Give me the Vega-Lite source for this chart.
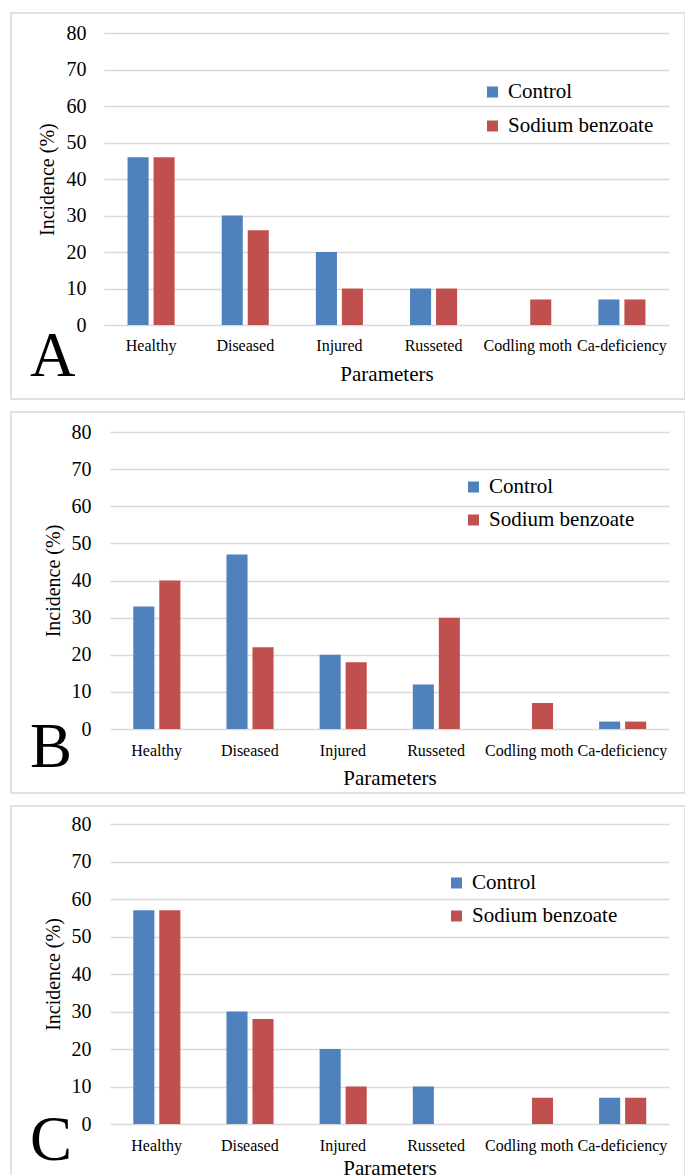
{
  "$schema": "https://vega.github.io/schema/vega-lite/v6.json",
  "padding": {"left": 10, "top": 12, "right": 0, "bottom": 0},
  "spacing": 11,
  "config": {
    "font": "Liberation Serif",
    "background": "#ffffff",
    "view": {"stroke": "#d9d9d9", "strokeWidth": 1.5},
    "axisX": {
      "grid": false, "domain": false, "ticks": false, "tickSize": 0,
      "labelAngle": 0, "labelFont": "Liberation Serif", "labelFontSize": 16, "labelColor": "#000000",
      "titleFont": "Liberation Serif", "titleFontSize": 21, "titleFontWeight": "normal", "titleColor": "#000000"
    },
    "axisY": {
      "grid": true, "gridColor": "#d9d9d9", "gridWidth": 1.5,
      "domain": false, "ticks": false, "tickSize": 0,
      "labelFont": "Liberation Serif", "labelFontSize": 20, "labelColor": "#000000",
      "titleFont": "Liberation Serif", "titleFontSize": 20, "titleFontWeight": "normal", "titleColor": "#000000",
      "values": [0, 10, 20, 30, 40, 50, 60, 70, 80]
    },
    "legend": {
      "orient": "none", "title": null, "padding": 0,
      "symbolType": "square", "symbolSize": 121, "symbolStrokeWidth": 0, "symbolOpacity": 1,
      "labelFont": "Liberation Serif", "labelFontSize": 21, "labelColor": "#000000", "labelOffset": 5, "labelLimit": 300
    },
    "title": {
      "orient": "bottom", "anchor": "start", "frame": "group",
      "font": "Liberation Serif", "fontSize": 63, "fontWeight": "normal", "color": "#000000",
      "baseline": "top", "dx": 19
    }
  },
  "data": {
    "values": [
      {"panel": "A", "parameter": "Healthy", "treatment": "Control", "incidence": 46},
      {"panel": "A", "parameter": "Healthy", "treatment": "Sodium benzoate", "incidence": 46},
      {"panel": "A", "parameter": "Diseased", "treatment": "Control", "incidence": 30},
      {"panel": "A", "parameter": "Diseased", "treatment": "Sodium benzoate", "incidence": 26},
      {"panel": "A", "parameter": "Injured", "treatment": "Control", "incidence": 20},
      {"panel": "A", "parameter": "Injured", "treatment": "Sodium benzoate", "incidence": 10},
      {"panel": "A", "parameter": "Russeted", "treatment": "Control", "incidence": 10},
      {"panel": "A", "parameter": "Russeted", "treatment": "Sodium benzoate", "incidence": 10},
      {"panel": "A", "parameter": "Codling moth", "treatment": "Control", "incidence": 0},
      {"panel": "A", "parameter": "Codling moth", "treatment": "Sodium benzoate", "incidence": 7},
      {"panel": "A", "parameter": "Ca-deficiency", "treatment": "Control", "incidence": 7},
      {"panel": "A", "parameter": "Ca-deficiency", "treatment": "Sodium benzoate", "incidence": 7},
      {"panel": "B", "parameter": "Healthy", "treatment": "Control", "incidence": 33},
      {"panel": "B", "parameter": "Healthy", "treatment": "Sodium benzoate", "incidence": 40},
      {"panel": "B", "parameter": "Diseased", "treatment": "Control", "incidence": 47},
      {"panel": "B", "parameter": "Diseased", "treatment": "Sodium benzoate", "incidence": 22},
      {"panel": "B", "parameter": "Injured", "treatment": "Control", "incidence": 20},
      {"panel": "B", "parameter": "Injured", "treatment": "Sodium benzoate", "incidence": 18},
      {"panel": "B", "parameter": "Russeted", "treatment": "Control", "incidence": 12},
      {"panel": "B", "parameter": "Russeted", "treatment": "Sodium benzoate", "incidence": 30},
      {"panel": "B", "parameter": "Codling moth", "treatment": "Control", "incidence": 0},
      {"panel": "B", "parameter": "Codling moth", "treatment": "Sodium benzoate", "incidence": 7},
      {"panel": "B", "parameter": "Ca-deficiency", "treatment": "Control", "incidence": 2},
      {"panel": "B", "parameter": "Ca-deficiency", "treatment": "Sodium benzoate", "incidence": 2},
      {"panel": "C", "parameter": "Healthy", "treatment": "Control", "incidence": 57},
      {"panel": "C", "parameter": "Healthy", "treatment": "Sodium benzoate", "incidence": 57},
      {"panel": "C", "parameter": "Diseased", "treatment": "Control", "incidence": 30},
      {"panel": "C", "parameter": "Diseased", "treatment": "Sodium benzoate", "incidence": 28},
      {"panel": "C", "parameter": "Injured", "treatment": "Control", "incidence": 20},
      {"panel": "C", "parameter": "Injured", "treatment": "Sodium benzoate", "incidence": 10},
      {"panel": "C", "parameter": "Russeted", "treatment": "Control", "incidence": 10},
      {"panel": "C", "parameter": "Russeted", "treatment": "Sodium benzoate", "incidence": 0},
      {"panel": "C", "parameter": "Codling moth", "treatment": "Control", "incidence": 0},
      {"panel": "C", "parameter": "Codling moth", "treatment": "Sodium benzoate", "incidence": 7},
      {"panel": "C", "parameter": "Ca-deficiency", "treatment": "Control", "incidence": 7},
      {"panel": "C", "parameter": "Ca-deficiency", "treatment": "Sodium benzoate", "incidence": 7}
    ]
  },
  "resolve": {
    "scale": {"x": "independent", "y": "independent", "color": "independent"},
    "legend": {"color": "independent"}
  },
  "vconcat": [
    {
      "transform": [{"filter": "datum.panel == 'A'"}],
      "width": 674,
      "height": 386,
      "title": {"text": "A", "offset": -73},
      "mark": {"type": "bar"},
      "encoding": {
        "x": {
          "field": "parameter", "type": "nominal",
          "sort": ["Healthy", "Diseased", "Injured", "Russeted", "Codling moth", "Ca-deficiency"],
          "scale": {"range": [93, 658], "paddingInner": 0.5, "paddingOuter": 0.25},
          "axis": {"title": "Parameters", "offset": -74, "labelPadding": 12, "titlePadding": 10}
        },
        "xOffset": {
          "field": "treatment", "type": "nominal",
          "sort": ["Control", "Sodium benzoate"],
          "scale": {"paddingInner": 0.19, "paddingOuter": 0}
        },
        "y": {
          "field": "incidence", "type": "quantitative",
          "scale": {"domain": [0, 80], "range": [312, 20.3], "nice": false},
          "axis": {"title": "Incidence (%)", "offset": -93, "labelPadding": 18, "titlePadding": 9}
        },
        "color": {
          "field": "treatment", "type": "nominal",
          "scale": {"domain": ["Control", "Sodium benzoate"], "range": ["#4f81bd", "#c0504d"]},
          "legend": {"legendX": 471, "legendY": 68.5, "rowPadding": 12}
        }
      }
    },
    {
      "transform": [{"filter": "datum.panel == 'B'"}],
      "width": 674,
      "height": 381,
      "title": {"text": "B", "offset": -76},
      "mark": {"type": "bar"},
      "encoding": {
        "x": {
          "field": "parameter", "type": "nominal",
          "sort": ["Healthy", "Diseased", "Injured", "Russeted", "Codling moth", "Ca-deficiency"],
          "scale": {"range": [99, 658], "paddingInner": 0.5, "paddingOuter": 0.25},
          "axis": {"title": "Parameters", "offset": -64, "labelPadding": 13, "titlePadding": 9}
        },
        "xOffset": {
          "field": "treatment", "type": "nominal",
          "sort": ["Control", "Sodium benzoate"],
          "scale": {"paddingInner": 0.19, "paddingOuter": 0}
        },
        "y": {
          "field": "incidence", "type": "quantitative",
          "scale": {"domain": [0, 80], "range": [317, 20], "nice": false},
          "axis": {"title": "Incidence (%)", "offset": -99, "labelPadding": 19, "titlePadding": 8}
        },
        "color": {
          "field": "treatment", "type": "nominal",
          "scale": {"domain": ["Control", "Sodium benzoate"], "range": ["#4f81bd", "#c0504d"]},
          "legend": {"legendX": 452, "legendY": 64.5, "rowPadding": 11}
        }
      }
    },
    {
      "transform": [{"filter": "datum.panel == 'C'"}],
      "width": 674,
      "height": 370,
      "title": {"text": "C", "offset": -68},
      "mark": {"type": "bar"},
      "encoding": {
        "x": {
          "field": "parameter", "type": "nominal",
          "sort": ["Healthy", "Diseased", "Injured", "Russeted", "Codling moth", "Ca-deficiency"],
          "scale": {"range": [99, 658], "paddingInner": 0.5, "paddingOuter": 0.25},
          "axis": {"title": "Parameters", "offset": -52, "labelPadding": 13, "titlePadding": 4}
        },
        "xOffset": {
          "field": "treatment", "type": "nominal",
          "sort": ["Control", "Sodium benzoate"],
          "scale": {"paddingInner": 0.19, "paddingOuter": 0}
        },
        "y": {
          "field": "incidence", "type": "quantitative",
          "scale": {"domain": [0, 80], "range": [318, 18], "nice": false},
          "axis": {"title": "Incidence (%)", "offset": -99, "labelPadding": 19, "titlePadding": 8}
        },
        "color": {
          "field": "treatment", "type": "nominal",
          "scale": {"domain": ["Control", "Sodium benzoate"], "range": ["#4f81bd", "#c0504d"]},
          "legend": {"legendX": 435, "legendY": 66.5, "rowPadding": 11}
        }
      }
    }
  ]
}
